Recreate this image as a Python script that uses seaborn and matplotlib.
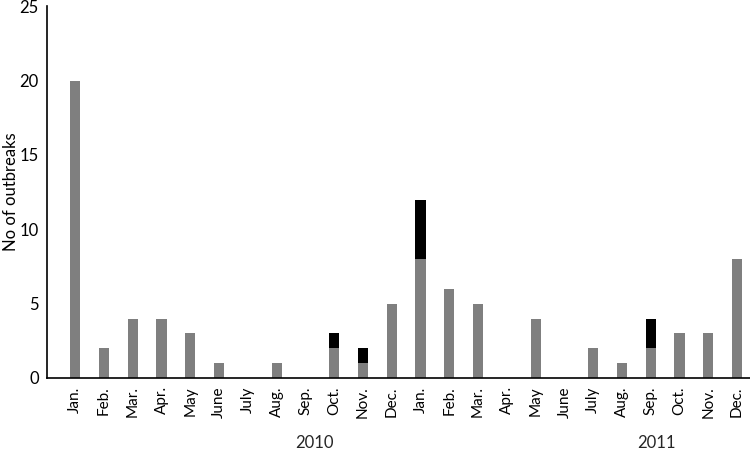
import matplotlib
matplotlib.use("Agg")
import matplotlib.pyplot as plt
import seaborn as sns
import pandas as pd

months = ["Jan.", "Feb.", "Mar.", "Apr.", "May", "June", "July", "Aug.", "Sep.", "Oct.", "Nov.", "Dec.",
          "Jan.", "Feb.", "Mar.", "Apr.", "May", "June", "July", "Aug.", "Sep.", "Oct.", "Nov.", "Dec."]
gray_vals = [20, 2, 4, 4, 3, 1, 0, 1, 0, 2, 1, 5,
             8, 6, 5, 0, 4, 0, 2, 1, 2, 3, 3, 8]
black_vals = [0, 0, 0, 0, 0, 0, 0, 0, 0, 1, 1, 0,
              4, 0, 0, 0, 0, 0, 0, 0, 2, 0, 0, 0]
years = ["2010", "2011"]

sns.set_style("white")
plt.rcParams["font.family"] = ["Lato", "DejaVu Sans"]

df = pd.DataFrame({
    "pos": list(range(len(months))),
    "gray": gray_vals,
    "total": [g + b for g, b in zip(gray_vals, black_vals)],
})

fig = plt.figure(figsize=(7.5, 4.5), dpi=100)
ax = fig.add_axes([0.063, 0.16, 0.937, 0.826])

# black part = full height, gray part drawn over it from the bottom
sns.barplot(data=df, x="pos", y="total", color="black", saturation=1, width=0.35,
            linewidth=0, edgecolor="none", ax=ax)
sns.barplot(data=df, x="pos", y="gray", color="#7f7f7f", saturation=1, width=0.35,
            linewidth=0, edgecolor="none", ax=ax)

ax.set_xlim(-0.97, 23.45)
ax.set_ylim(0, 25)
ax.set_yticks([0, 5, 10, 15, 20, 25])
ax.set_xticks(range(len(months)))
ax.set_xticklabels(months, rotation=90, fontsize=11, color="black")
ax.tick_params(axis="y", labelsize=12, length=0, pad=6, labelcolor="black")
ax.tick_params(axis="x", length=0, pad=6)
ax.set_xlabel("")
ax.set_ylabel("No of outbreaks", fontsize=12, color="black")
ax.yaxis.set_label_coords(-0.04, 0.5)

for s in ["top", "right"]:
    ax.spines[s].set_visible(False)
for s in ["left", "bottom"]:
    ax.spines[s].set_color("black")
    ax.spines[s].set_linewidth(1.2)

ax.text(8.3, -4.36, years[0], ha="center", va="center", fontsize=12)
ax.text(20.2, -4.36, years[1], ha="center", va="center", fontsize=12)

fig.savefig("out.png", dpi=100)
